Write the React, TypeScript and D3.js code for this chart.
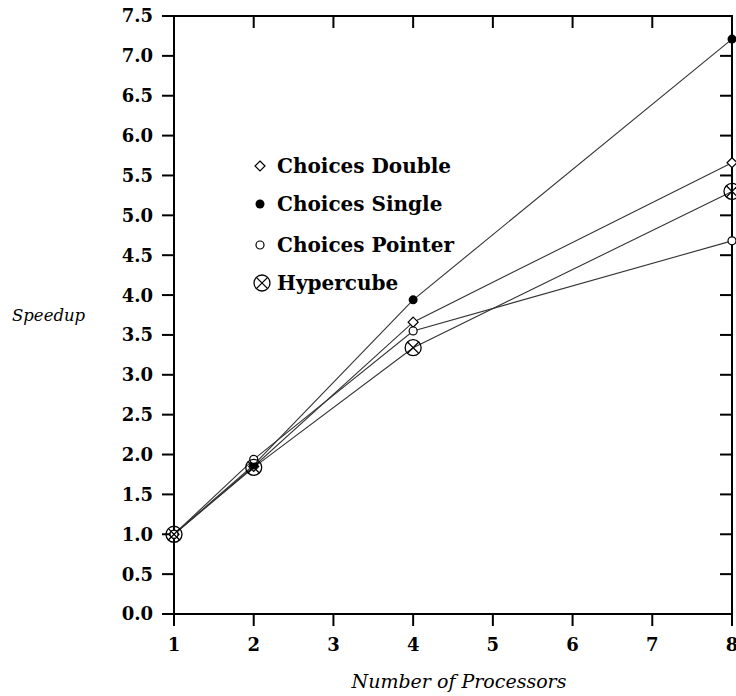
import * as d3 from 'd3'

const processors = [1, 2, 4, 8]
const choicesDouble = [1.0, 1.85, 3.66, 5.66]
const choicesSingle = [1.0, 1.87, 3.94, 7.21]
const choicesPointer = [1.0, 1.94, 3.55, 4.68]
const hypercube = [1.0, 1.84, 3.34, 5.3]

const xTicks = [1, 2, 3, 4, 5, 6, 7, 8]
const yTicks = d3.range(0, 7.51, 0.5)

const SIZE = { width: 736, height: 696 }
const MARGIN = { top: 16, right: 4, bottom: 82, left: 174 }

type Marker = 'diamond' | 'dot' | 'circle' | 'otimes'

const seriesList: { name: string; values: number[]; marker: Marker }[] = [
  { name: 'Choices Double', values: choicesDouble, marker: 'diamond' },
  { name: 'Choices Single', values: choicesSingle, marker: 'dot' },
  { name: 'Choices Pointer', values: choicesPointer, marker: 'circle' },
  { name: 'Hypercube', values: hypercube, marker: 'otimes' },
]

const FONT = '"DejaVu Serif", "Liberation Serif", serif'

function MarkerShape({ type, x, y }: { type: Marker; x: number; y: number }) {
  if (type === 'diamond') {
    const s = 5
    return (
      <path
        d={`M${x},${y - s}L${x + s},${y}L${x},${y + s}L${x - s},${y}Z`}
        fill="white"
        stroke="black"
        strokeWidth={1.2}
      />
    )
  }
  if (type === 'dot') return <circle cx={x} cy={y} r={4.5} fill="black" />
  if (type === 'circle')
    return <circle cx={x} cy={y} r={4} fill="white" stroke="black" strokeWidth={1.2} />
  const r = 8
  const d = r * Math.SQRT1_2
  return (
    <g stroke="black" strokeWidth={1.3}>
      <circle cx={x} cy={y} r={r} fill="none" />
      <line x1={x - d} y1={y - d} x2={x + d} y2={y + d} />
      <line x1={x - d} y1={y + d} x2={x + d} y2={y - d} />
    </g>
  )
}

export default function App() {
  const innerWidth = SIZE.width - MARGIN.left - MARGIN.right
  const innerHeight = SIZE.height - MARGIN.top - MARGIN.bottom

  const xScale = d3.scaleLinear().domain([1, 8]).range([0, innerWidth])
  const yScale = d3.scaleLinear().domain([0, 7.5]).range([innerHeight, 0])

  const line = d3
    .line<number>()
    .x((_, i) => xScale(processors[i]))
    .y((v) => yScale(v))

  const legend = [
    { y: 166, marker: 'diamond' as Marker, label: 'Choices Double', x: 260 },
    { y: 204, marker: 'dot' as Marker, label: 'Choices Single', x: 260 },
    { y: 245, marker: 'circle' as Marker, label: 'Choices Pointer', x: 260 },
    { y: 283, marker: 'otimes' as Marker, label: 'Hypercube', x: 262 },
  ]

  return (
    <svg
      width={SIZE.width}
      height={SIZE.height}
      style={{ position: 'absolute', left: 0, top: 0, background: 'white' }}
      fontFamily={FONT}
    >
      <g transform={`translate(${MARGIN.left},${MARGIN.top})`}>
        {/* series lines */}
        {seriesList.map((s) => (
          <path key={s.name} d={line(s.values) || ''} fill="none" stroke="#333" strokeWidth={1.1} />
        ))}
        {/* frame */}
        <rect width={innerWidth} height={innerHeight} fill="none" stroke="black" strokeWidth={2} />
        {yTicks.map((t) => (
          <g key={t} transform={`translate(0,${yScale(t)})`}>
            <line x1={-12} x2={0} stroke="black" strokeWidth={2} />
            {t > 0 && t < 7.5 && <line x1={innerWidth - 12} x2={innerWidth} stroke="black" strokeWidth={2} />}
            <text x={-21} dy="0.36em" textAnchor="end" fontWeight="bold" fontSize={18}>
              {t.toFixed(1)}
            </text>
          </g>
        ))}
        {xTicks.map((t) => (
          <g key={t} transform={`translate(${xScale(t)},0)`}>
            <line y1={innerHeight} y2={innerHeight + 12} stroke="black" strokeWidth={2} />
            {t > 1 && t < 8 && <line y1={0} y2={12} stroke="black" strokeWidth={2} />}
            <text y={innerHeight + 37} textAnchor="middle" fontWeight="bold" fontSize={18}>
              {t}
            </text>
          </g>
        ))}
        {/* markers */}
        {seriesList.map((s) =>
          s.values.map((v, i) => (
            <MarkerShape key={s.name + i} type={s.marker} x={xScale(processors[i])} y={yScale(v)} />
          ))
        )}
      </g>
      {legend.map((l) => (
        <g key={l.label}>
          <MarkerShape type={l.marker} x={l.x} y={l.y} />
          <text x={277} y={l.y} dy="0.36em" fontWeight="bold" fontSize={20}>
            {l.label}
          </text>
        </g>
      ))}
      <text x={12} y={321} fontStyle="italic" fontSize={16.5}>
        Speedup
      </text>
      <text x={459} y={688} textAnchor="middle" fontStyle="italic" fontSize={19}>
        Number of Processors
      </text>
    </svg>
  )
}
